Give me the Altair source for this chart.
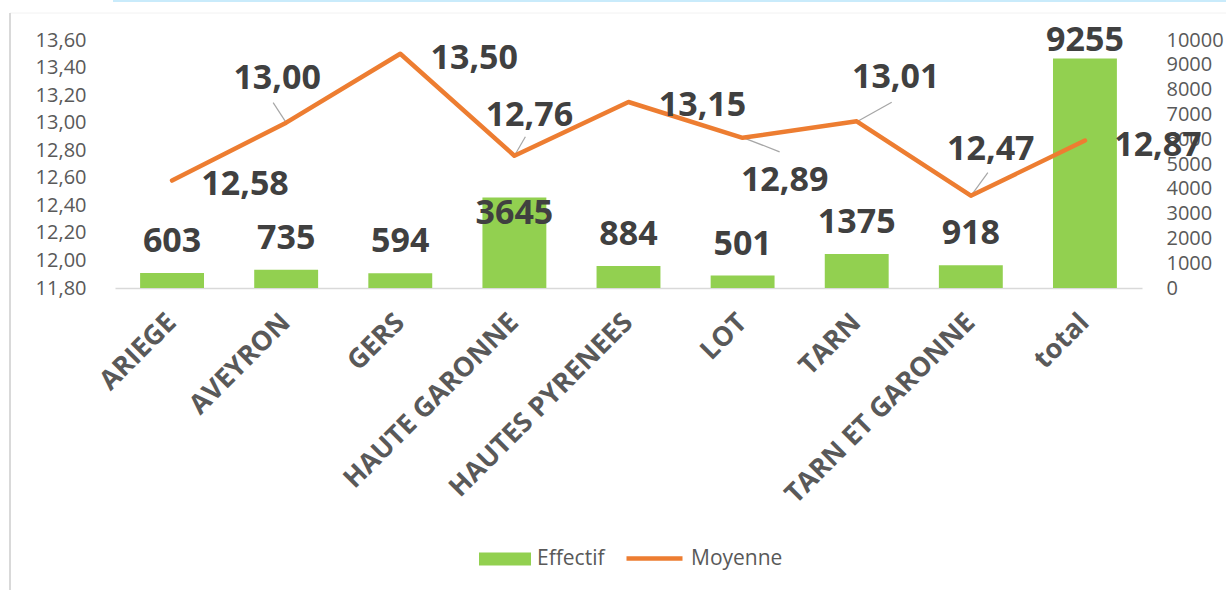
import altair as alt
import pandas as pd

# ---- data ----
categories = ["ARIEGE", "AVEYRON", "GERS", "HAUTE GARONNE", "HAUTES PYRENEES",
              "LOT", "TARN", "TARN ET GARONNE", "total"]
effectif = [603, 735, 594, 3645, 884, 501, 1375, 918, 9255]
moyenne = [12.58, 13.00, 13.50, 12.76, 13.15, 12.89, 13.01, 12.47, 12.87]
left_ticks = [11.8, 12.0, 12.2, 12.4, 12.6, 12.8, 13.0, 13.2, 13.4, 13.6]
right_ticks = [0, 1000, 2000, 3000, 4000, 5000, 6000, 7000, 8000, 9000, 10000]

df = pd.DataFrame({"cat": categories, "eff": effectif, "moy": moyenne})
df["s_bar"] = "Effectif"
df["s_line"] = "Moyenne"

FONT = "Open Sans"
GREEN = "#92d050"
ORANGE = "#ed7d31"
LABEL = "#404040"
AXIS = "#595959"

# label placement (styling, pixels relative to the data point)
bar_label_dy = {"HAUTE GARONNE": 16, "total": -17}
bar_label_default_dy = -31
line_label_off = {
    "ARIEGE": (73, 4), "AVEYRON": (-9, -44), "GERS": (74, 5),
    "HAUTE GARONNE": (15, -40), "HAUTES PYRENEES": (74, 4),
    "LOT": (42, 43), "TARN": (39, -43), "TARN ET GARONNE": (20, -46),
    "total": (73, 5),
}
leaders = {
    "AVEYRON": (-13, -20, 0, 0),
    "HAUTE GARONNE": (0, 0, 11, -19),
    "LOT": (1, 0, 37, 14),
    "TARN": (1, 0, 35, -19),
    "TARN ET GARONNE": (1, -1, 17, -23),
}

X = alt.X("cat:N", sort=categories, title=None,
          scale=alt.Scale(paddingInner=0.44, paddingOuter=0.22),
          axis=alt.Axis(labelAngle=-45, labelAlign="right", labelBaseline="middle",
                        labelFont=FONT, labelFontWeight="bold", labelFontSize=27,
                        labelColor=AXIS, labelPadding=30, labelLimit=500,
                        labelOverlap=False, ticks=False, domainColor="#d9d9d9",
                        domainWidth=1.5))
YL = alt.Y("moy:Q", title=None,
           scale=alt.Scale(domain=[11.8, 13.6], nice=False, zero=False),
           axis=alt.Axis(orient="left", values=left_ticks,
                         labelExpr="replace(format(datum.value, '.2f'), '.', ',')",
                         grid=False, domain=False, ticks=False, labelPadding=29,
                         labelFont=FONT, labelFontSize=20, labelColor=AXIS))
YR = alt.Y("eff:Q", title=None,
           scale=alt.Scale(domain=[0, 10000], nice=False),
           axis=alt.Axis(orient="right", values=right_ticks, format="d",
                         grid=False, domain=False, ticks=False, labelPadding=24,
                         labelFont=FONT, labelFontSize=20, labelColor=AXIS))

base = alt.Chart(df)

bars = base.mark_bar().encode(
    x=X, y=YR,
    fill=alt.Fill("s_bar:N", scale=alt.Scale(range=[GREEN]),
                  legend=alt.Legend(title=None, orient="none", legendX=364, legendY=493,
                                    symbolType="M-1,-0.25H1V0.25H-1Z", symbolSize=2704,
                                    symbolStrokeWidth=0, labelFont=FONT, labelFontSize=21,
                                    labelColor=AXIS, labelOffset=6, padding=0)),
)

bar_label_layers = [
    base.transform_filter(~alt.FieldOneOfPredicate(field="cat", oneOf=list(bar_label_dy)))
    .mark_text(font=FONT, fontWeight="bold", fontSize=34, color=LABEL,
               baseline="middle", dy=bar_label_default_dy)
    .encode(x=X, y=YR, text="eff:N")
]
for c, dy in bar_label_dy.items():
    bar_label_layers.append(
        base.transform_filter(alt.datum.cat == c)
        .mark_text(font=FONT, fontWeight="bold", fontSize=34, color=LABEL,
                   baseline="middle", dy=dy)
        .encode(x=X, y=YR, text="eff:N"))

bar_group = alt.layer(bars, *bar_label_layers)

line = base.mark_line(strokeWidth=4.5, strokeCap="round", strokeJoin="round").encode(
    x=X, y=YL,
    stroke=alt.Stroke("s_line:N", scale=alt.Scale(range=[ORANGE]),
                      legend=alt.Legend(title=None, orient="none", legendX=509, legendY=488,
                                        symbolType="stroke", symbolSize=3136,
                                        symbolStrokeWidth=4.5, labelFont=FONT,
                                        labelFontSize=21, labelColor=AXIS,
                                        labelOffset=6, padding=0)),
)

leader_layers = []
for c, (x1, y1, x2, y2) in leaders.items():
    leader_layers.append(
        base.transform_filter(alt.datum.cat == c)
        .mark_rule(color="#a6a6a6", strokeWidth=1.2, xOffset=x1, yOffset=y1,
                   x2Offset=x2, y2Offset=y2)
        .encode(x=X, x2=alt.X2("cat:N"), y=YL, y2=alt.Y2("moy:Q")))

line_label_layers = []
for c, (dx, dy) in line_label_off.items():
    line_label_layers.append(
        base.transform_filter(alt.datum.cat == c)
        .transform_calculate(lab="replace(format(datum.moy, '.2f'), '.', ',')")
        .mark_text(font=FONT, fontWeight="bold", fontSize=34, color=LABEL,
                   baseline="middle", align="center", dx=dx, dy=dy)
        .encode(x=X, y=YL, text="lab:N"))

line_group = alt.layer(*leader_layers, line, *line_label_layers)

frame = pd.DataFrame({"k": [0]})
deco = alt.layer(
    alt.Chart(frame).mark_rule(color="#c9ebfb", strokeWidth=2).encode(
        x=alt.value(-2), x2=alt.value(1111), y=alt.value(-39)),
    alt.Chart(frame).mark_rule(color="#f2f2f2", strokeWidth=1).encode(
        x=alt.value(-105), x2=alt.value(1111), y=alt.value(-27)),
    alt.Chart(frame).mark_rule(color="#d9d9d9", strokeWidth=2).encode(
        x=alt.value(-105), y=alt.value(-27), y2=alt.value(560)),
)

chart = alt.layer(deco, bar_group, line_group).resolve_scale(
    y="independent", fill="independent", stroke="independent"
).properties(
    width=1027, height=248,
    padding={"left": 115, "top": 40, "right": 84, "bottom": 302},
    autosize=alt.AutoSizeParams(type="none"),
    background="white",
    view=alt.ViewBackground(strokeWidth=0, stroke="transparent"),
).configure_view(strokeWidth=0, stroke="transparent")

chart.save("out.html", embed_options={"renderer": "svg", "actions": False})
